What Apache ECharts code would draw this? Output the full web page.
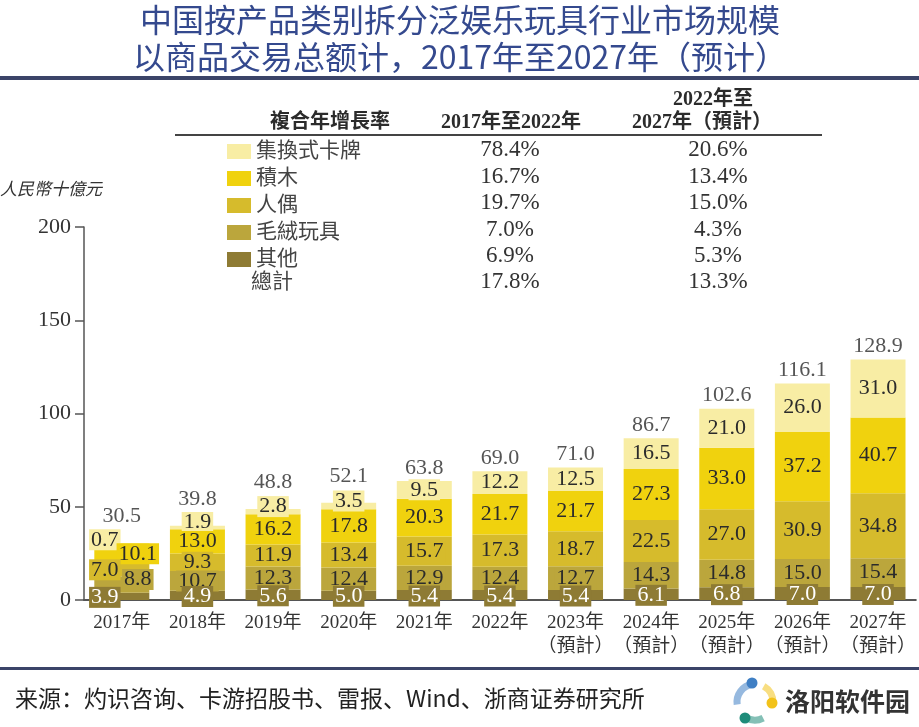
<!DOCTYPE html>
<html><head><meta charset="utf-8">
<script src="https://cdn.jsdelivr.net/npm/echarts@6/dist/echarts.min.js"></script>
<style>html,body{margin:0;padding:0;background:#fff}#c{width:919px;height:727px}</style>
</head><body><div id="c"></div>
<script>
// ---- data ----
const categories = ['2017年','2018年','2019年','2020年','2021年','2022年','2023年\n（預計）','2024年\n（預計）','2025年\n（預計）','2026年\n（預計）','2027年\n（預計）'];
const seriesNames = ['其他','毛絨玩具','人偶','積木','集換式卡牌'];
const other   = [3.9, 4.9, 5.6, 5.0, 5.4, 5.4, 5.4, 6.1, 6.8, 7.0, 7.0];
const plush   = [8.8, 10.7, 12.3, 12.4, 12.9, 12.4, 12.7, 14.3, 14.8, 15.0, 15.4];
const figures = [7.0, 9.3, 11.9, 13.4, 15.7, 17.3, 18.7, 22.5, 27.0, 30.9, 34.8];
const blocks  = [10.1, 13.0, 16.2, 17.8, 20.3, 21.7, 21.7, 27.3, 33.0, 37.2, 40.7];
const cards   = [0.7, 1.9, 2.8, 3.5, 9.5, 12.2, 12.5, 16.5, 21.0, 26.0, 31.0];
const totals  = [30.5, 39.8, 48.8, 52.1, 63.8, 69.0, 71.0, 86.7, 102.6, 116.1, 128.9];
const yTicks  = [0, 50, 100, 150, 200];
const legendOrder = ['集換式卡牌','積木','人偶','毛絨玩具','其他'];
const totalRowName = '總計';
const cagrHeader = ['複合年增長率','2017年至2022年','2022年至','2027年（預計）'];
const cagr1722 = ['78.4%','16.7%','19.7%','7.0%','6.9%','17.8%'];
const cagr2227 = ['20.6%','13.4%','15.0%','4.3%','5.3%','13.3%'];
const titleLines = ['中国按产品类别拆分泛娱乐玩具行业市场规模','以商品交易总额计，2017年至2027年（预计）'];
const unitText = '人民幣十億元';
const sourceText = '来源：灼识咨询、卡游招股书、雷报、Wind、浙商证券研究所';
const logoText = '洛阳软件园';

// ---- styles ----
const colors = {'其他':'#8e7b34','毛絨玩具':'#bba63c','人偶':'#d6bb2c','積木':'#f0d20e','集換式卡牌':'#f8eda4'};
const serif = '"Liberation Serif","DejaVu Serif","Noto Sans CJK TC",serif';
const cjk = '"Noto Sans CJK SC",sans-serif';
const values = [other, plush, figures, blocks, cards];
// 2017 labels are staggered left/right in the reference
const firstOffsets = [[-17,1],[16,-5],[-17,0],[16,0],[-17,-4]];

const chart = echarts.init(document.getElementById('c'));

// visible stacked bars
const barSeries = seriesNames.map((name, si) => ({
  name, type: 'bar', stack: 'total', barWidth: 55, barGap: '-100%',
  itemStyle: {color: colors[name]},
  data: values[si],
  z: 2
}));
// overlay stack carrying the value labels so they sit above every bar
const labelSeries = seriesNames.map((name, si) => ({
  name: name + ' ', type: 'bar', stack: 'labels', barWidth: 55, barGap: '-100%',
  itemStyle: {color: 'rgba(0,0,0,0)'}, silent: true,
  label: {
    show: true, position: 'inside',
    formatter: p => Number(p.value).toFixed(1),
    fontFamily: serif, fontSize: 22, lineHeight: 21,
    color: si === 0 ? '#ffffff' : '#2b2b2b',
    backgroundColor: colors[name], padding: [0, 2]
  },
  data: values[si].map((v, i) => {
    if (i === 0) return {value: v, label: {offset: firstOffsets[si]}};
    if (si === 4 && v < 4) return {value: v, label: {offset: [0, -5]}};
    if (si === 0) return {value: v, label: {offset: [0, 1]}};
    return v;
  }),
  z: 10 - si
}));

const totalSeries = {
  name: 'totals', type: 'scatter', symbolSize: 0,
  data: totals.map((v, i) => ({value: v, label: {offset: [0, cards[i] < 4 ? -14 : 0]}})),
  label: {
    show: true, position: 'top', distance: 2,
    formatter: p => Number(p.value).toFixed(1),
    fontFamily: serif, fontSize: 22, color: '#2b2b2b'
  },
  z: 20, silent: true
};

const rowY = [150, 176.5, 203, 229.5, 256, 282];
const graphics = [];
// title
titleLines.forEach((t, i) => graphics.push({type: 'text', x: 460, y: 20 + i * 37,
  style: {text: t, fontFamily: cjk, fontSize: 32, fill: '#34498e', textAlign: 'center', textVerticalAlign: 'middle'}}));
graphics.push({type: 'rect', shape: {x: 0, y: 76, width: 919, height: 4}, style: {fill: '#3b4468'}});
graphics.push({type: 'rect', shape: {x: 0, y: 667, width: 919, height: 3}, style: {fill: '#3b4468'}});
// table header
const hdr = (text, x, y) => graphics.push({type: 'text', x, y, style: {text, font: 'bold 20px ' + serif, fill: '#2b2b2b', textAlign: 'center', textVerticalAlign: 'middle'}});
hdr(cagrHeader[0], 330, 123);
hdr(cagrHeader[1], 511, 123);
hdr(cagrHeader[2], 713, 100);
hdr(cagrHeader[3], 702, 123);
graphics.push({type: 'line', shape: {x1: 175, y1: 135, x2: 822, y2: 135}, style: {stroke: '#444', lineWidth: 2}});
// total row name
graphics.push({type: 'text', x: 251, y: rowY[5], style: {text: totalRowName, fontFamily: serif, fontSize: 21, fill: '#444', textVerticalAlign: 'middle'}});
// CAGR values
rowY.forEach((y, i) => {
  graphics.push({type: 'text', x: 510, y, style: {text: cagr1722[i], fontFamily: serif, fontSize: 23, fill: '#333', textAlign: 'center', textVerticalAlign: 'middle'}});
  graphics.push({type: 'text', x: 718, y, style: {text: cagr2227[i], fontFamily: serif, fontSize: 23, fill: '#333', textAlign: 'center', textVerticalAlign: 'middle'}});
});
// unit
graphics.push({type: 'text', x: 0, y: 191, style: {text: unitText, fontFamily: serif, fontStyle: 'italic', fontSize: 17, fill: '#333', textVerticalAlign: 'middle'}});
// footer
graphics.push({type: 'text', x: 15, y: 698, style: {text: sourceText, fontFamily: cjk, fontSize: 23, fill: '#222', textVerticalAlign: 'middle'}});
graphics.push({type: 'text', x: 785, y: 701, style: {text: logoText, fontFamily: cjk, fontWeight: 'bold', fontSize: 25, fill: '#333', textVerticalAlign: 'middle'}});
const deg = d => d * Math.PI / 180;
const arcs = [[172, 261, '#3f7fc4', 752, 683], [299, 363, '#f2c21a', 772, 703], [63, 122, '#1f8c7a', 745, 718]];
arcs.forEach(a => {
  graphics.push({type: 'arc', shape: {cx: 755, cy: 702, r: 18, startAngle: deg(a[0]), endAngle: deg(a[1])}, style: {stroke: a[2], lineWidth: 7, fill: null, opacity: 0.55}});
  graphics.push({type: 'circle', shape: {cx: a[3], cy: a[4], r: 5.5}, style: {fill: a[2]}});
});

chart.setOption({
  backgroundColor: '#ffffff',
  animation: false,
  grid: {left: 84, right: 3, top: 227, bottom: 127},
  legend: {
    data: legendOrder, orient: 'vertical', left: 222, top: 136,
    itemWidth: 24, itemHeight: 15, itemGap: 6, icon: 'rect',
    textStyle: {fontFamily: serif, fontSize: 21, lineHeight: 20.5, color: '#444'},
    selectedMode: false
  },
  xAxis: {
    type: 'category', data: categories, z: 0,
    axisLine: {lineStyle: {color: '#555', width: 2}},
    axisTick: {show: false},
    axisLabel: {fontFamily: serif, fontSize: 19, lineHeight: 24, color: '#333', margin: 11, interval: 0}
  },
  yAxis: {
    type: 'value', min: yTicks[0], max: yTicks[yTicks.length - 1], interval: yTicks[1] - yTicks[0],
    axisLine: {show: true, lineStyle: {color: '#555', width: 1.5}},
    axisTick: {show: true, length: 9, lineStyle: {color: '#555', width: 1.5}},
    splitLine: {show: false},
    axisLabel: {fontFamily: serif, fontSize: 22, color: '#333', margin: 13}
  },
  series: [...barSeries, ...labelSeries, totalSeries],
  graphic: graphics
});
</script>
</body></html>
